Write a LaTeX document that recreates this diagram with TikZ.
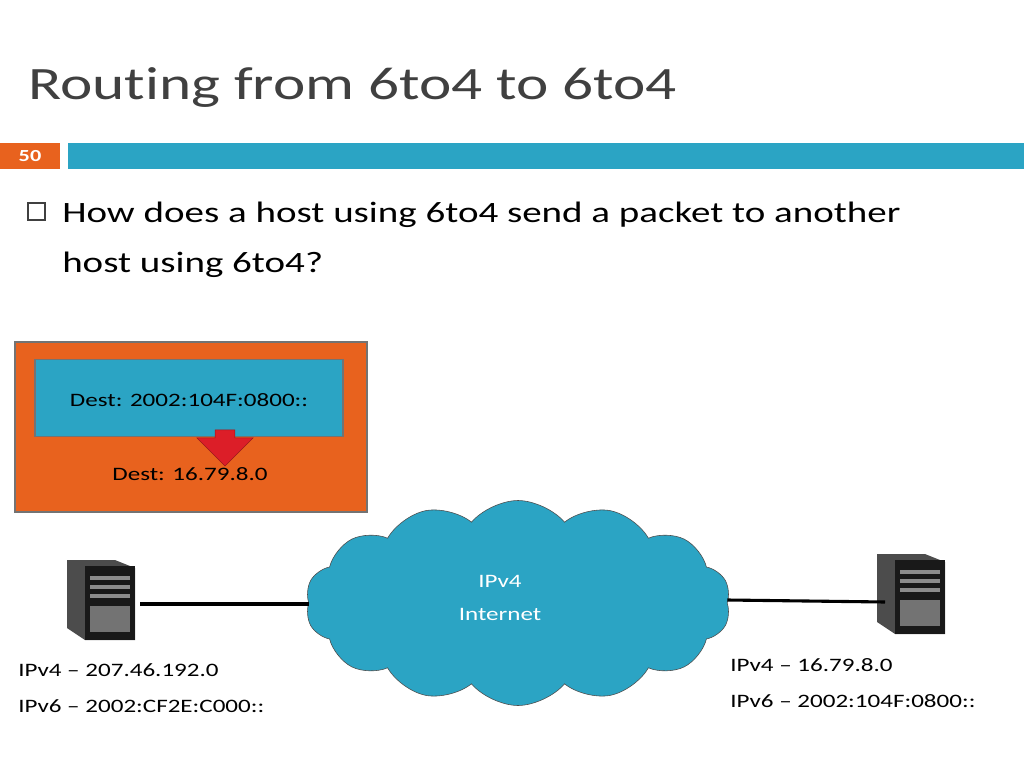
\documentclass[tikz,border=0pt]{standalone}
\usepackage{fontspec}
\setmainfont{Carlito}[FakeStretch=1.32, Ligatures={NoCommon,NoRare,NoDiscretionary}]
\usetikzlibrary{shapes.symbols,shapes.arrows,positioning}
\definecolor{slideblue}{RGB}{43,164,196}
\definecolor{slideorange}{RGB}{232,98,30}
\definecolor{titlegrey}{RGB}{64,64,64}
\definecolor{arrowred}{RGB}{220,30,40}
\begin{document}
\begin{tikzpicture}[x=0.025cm, y=-0.025cm,
    label/.style={font=\fontsize{13.5}{16}\selectfont, align=left, inner sep=0pt},
    box/.style={rectangle, draw=black!55, thick, inner sep=0pt},
    link/.style={line width=2.2pt},
    server/.style={fill=black!85, draw=black!60}
]
    \useasboundingbox (0,0) rectangle (1024,768);
    % Title and bars
    \node[anchor=base west, text=titlegrey, font=\fontsize{33}{40}\selectfont, inner sep=0pt] (title) at (28,100) {Routing from 6to4 to 6to4};
    \fill[slideorange] (0,143) rectangle (60,169);
    \node[text=white, font=\bfseries\fontsize{12}{14}\selectfont] (num) at (30,156) {50};
    \fill[slideblue] (68,143) rectangle (1024,169);
    % Bullet
    \draw[thick, titlegrey] (28,203) rectangle (45,220);
    \node[anchor=base west, label, text=black, font=\fontsize{21}{35}\selectfont] (q) at (62,222) {How does a host using 6to4 send a packet to another};
    \node[anchor=base west, label, text=black, font=\fontsize{21}{35}\selectfont] (q2) at (62,272) {host using 6to4?};
    % Packet
    \node[box, fill=slideorange, minimum width=352*0.025cm, minimum height=170*0.025cm] (pkt) at (191,427) {};
    \node[box, fill=slideblue, minimum width=308*0.025cm, minimum height=77*0.025cm] (hdr) at (189,398) {};
    \node[label] (d6) at (189,400) {Dest: 2002:104F:0800::};
    \node[single arrow, shape border rotate=270, fill=arrowred, draw=arrowred!70!black, minimum height=36*0.025cm, minimum width=56*0.025cm, single arrow head extend=5pt, inner sep=2.5pt] (conv) at (225,443) {};
    \node[label] (d4) at (190,474) {Dest: 16.79.8.0};
    % Cloud
    \node[cloud, cloud puffs=14, cloud puff arc=100, aspect=2.1, draw=black!70, fill=slideblue, minimum width=425*0.025cm, minimum height=205*0.025cm] (net) at (518,603) {};
    \node[label, text=white, align=center] (netlbl) at (500,598) {IPv4\\[7pt]Internet};
    % Hosts
    \foreach \n/\x/\y in {hl/100/598, hr/910/592}{
      \coordinate (\n) at (\x,\y);
      \fill[black!70] (\x-33,\y-38) -- (\x+15,\y-38) -- (\x+35,\y-30) -- (\x+35,\y+42) -- (\x-15,\y+42) -- (\x-33,\y+30) -- cycle;
      \fill[black!90] (\x-15,\y-32) rectangle (\x+35,\y+42);
      \foreach \k in {0,1,2}
        \fill[black!45] (\x-10,\y-22+\k*9) rectangle (\x+30,\y-18+\k*9);
      \fill[black!55] (\x-10,\y+8) rectangle (\x+30,\y+34);
    }
    \draw[link] (140,604) -- (net.west |- 0,604);
    \draw[link] (net.east |- 0,600) -- (885,602);
    % Addresses
    \node[label, anchor=north west] (al) at (18,663) {IPv4 -- 207.46.192.0\\[10pt]IPv6 -- 2002:CF2E:C000::};
    \node[label, anchor=north west] (ar) at (730,658) {IPv4 -- 16.79.8.0\\[10pt]IPv6 -- 2002:104F:0800::};
\end{tikzpicture}
\end{document}
